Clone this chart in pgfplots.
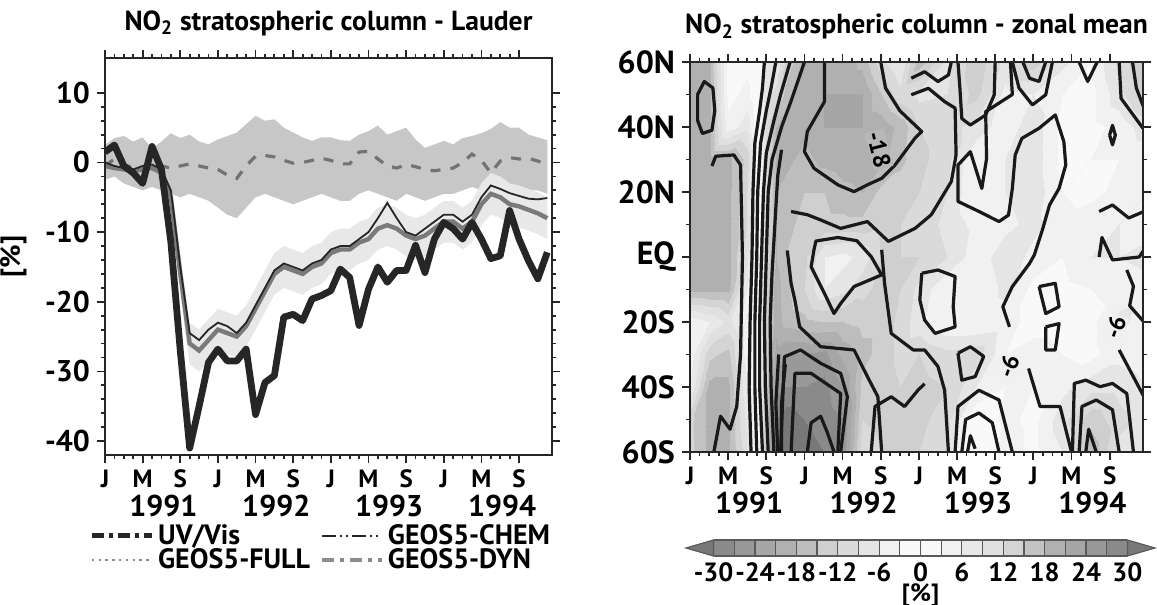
\documentclass[border=0pt]{standalone}
\usepackage{fontspec}
\setmainfont{PT Sans}
\usepackage{pgfplots}
\pgfplotsset{compat=1.18}

% grey levels of the filled contours, one per 3 % step from -33 to 33
\pgfplotsset{
  colormap={nogray}{
    gray(0cm)=(0.47); gray(1cm)=(0.54); gray(2cm)=(0.60); gray(3cm)=(0.65);
    gray(4cm)=(0.69); gray(5cm)=(0.74); gray(6cm)=(0.81); gray(7cm)=(0.855);
    gray(8cm)=(0.90); gray(9cm)=(0.945); gray(10cm)=(0.975); gray(11cm)=(0.975);
    gray(12cm)=(0.945); gray(13cm)=(0.91); gray(14cm)=(0.878); gray(15cm)=(0.83);
    gray(16cm)=(0.76); gray(17cm)=(0.69); gray(18cm)=(0.65); gray(19cm)=(0.60);
    gray(20cm)=(0.54); gray(21cm)=(0.47); gray(22cm)=(0.47)},
  panel/.style={
    anchor=south west, scale only axis,
    xmin=0, xmax=47.5,
    axis on top, tick align=outside,
    axis line style={line width=1.2pt, black!85},
    every tick/.style={black!85, line width=0.9pt},
    major tick length=4pt, minor tick length=2pt,
    xtick={0,4,...,44},
    xticklabels={J,M,S,J,M,S,J,M,S,J,M,S},
    minor x tick num=3,
    x tick label style={font=\fontsize{12.5}{14}\selectfont\bfseries},
    y tick label style={font=\fontsize{15}{16}\selectfont\bfseries},
    /pgf/number format/assume math mode=true,
    extra x ticks={6.2,18.2,30.2,42.2},
    extra x tick labels={\fontsize{15}{17}\selectfont 1991,\fontsize{15}{17}\selectfont 1992,
      \fontsize{15}{17}\selectfont 1993,\fontsize{15}{17}\selectfont 1994},
    extra x tick style={major tick length=0pt, tick label style={yshift=-16.5pt}},
    title style={font=\fontsize{13.8}{15}\selectfont\bfseries,
      at={(0.5,1)}, anchor=base, yshift=8pt},
  },
  cline/.style={black!90, line width=1.6pt, line join=round},
}
\tikzset{clabel/.style={font=\fontsize{12}{12}\selectfont\bfseries, fill=black!6, inner sep=0.6pt}}

\begin{document}
\begin{tikzpicture}[font=\bfseries]
\path[use as bounding box] (-52.5pt,-75pt) rectangle (526pt,227.5pt);

% ---------------- left: Lauder time series ----------------
\begin{axis}[panel,
  at={(0pt,0pt)}, width=223.5pt, height=198.5pt,
  ymin=-42, ymax=15,
  ytick={-40,-30,...,10}, minor y tick num=4,
  title={NO\textsubscript{2} stratospheric column - Lauder},
  ylabel={[\%]},
  ylabel style={font=\fontsize{14}{16}\selectfont\bfseries,
    at={(axis description cs:-0.205,0.5)}, anchor=center},
  legend columns=2,
  legend cell align=left,
  legend style={draw=none, fill=none, at={(0,0)}, anchor=north west,
    xshift=-11pt, yshift=-30.5pt, row sep=-3.4pt,
    font=\fontsize{14}{14}\selectfont\bfseries,
    /tikz/every even column/.append style={column sep=3pt}},
  legend image code/.code={\draw[#1] (0pt,0pt) -- (23.5pt,0pt); \path (0pt,0pt) -- (30pt,0pt);},
]
% GEOS5-DYN spread
\addplot[fill=black!22, draw=none, forget plot] coordinates {
(0,2.5)(1,3.5)(2,3.8)(3,3.0)(4,3.6)(5,2.0)(6,3.0)(7,4.2)(8,3.5)(9,4.0)
(10,3.0)(11,2.6)(12,3.3)(13,3.8)(14,4.3)(15,5.5)(16,6.7)(17,6.0)(18,6.2)(19,5.0)
(20,4.3)(21,3.6)(22,3.1)(23,3.6)(24,3.6)(25,3.2)(26,3.1)(27,4.0)(28,4.5)(29,5.3)
(30,4.0)(31,4.5)(32,5.0)(33,3.3)(34,2.1)(35,2.6)(36,3.1)(37,2.6)(38,3.5)(39,3.8)
(40,4.2)(41,4.8)(42,5.8)(43,5.0)(44,5.0)(45,4.0)(46,3.6)(47,3.2)
(47,-4.5)(46,-4.0)(45,-4.0)(44,-3.5)(43,-3.5)(42,-4.0)(41,-5.0)(40,-4.0)
(39,-3.5)(38,-4.0)(37,-4.5)(36,-4.5)(35,-5.0)(34,-5.5)(33,-5.0)(32,-4.5)(31,-5.5)(30,-5.0)
(29,-4.5)(28,-4.0)(27,-4.5)(26,-5.5)(25,-5.5)(24,-5.0)(23,-4.5)(22,-5.0)(21,-5.5)(20,-6.0)
(19,-5.5)(18,-5.0)(17,-4.5)(16,-5.0)(15,-6.5)(14,-8.0)(13,-7.5)(12,-6.5)(11,-5.5)(10,-5.0)
(9,-4.5)(8,-5.0)(7,-4.5)(6,-4.0)(5,-3.5)(4,-4.0)(3,-3.5)(2,-3.0)(1,-2.0)(0,-2.5)
} -- cycle;
% model spread
\addplot[fill=black!9, draw=none, forget plot] coordinates {
(8,-13)(9,-23)(10,-24)(11,-22.5)(12,-21)(13,-21.5)(14,-22)(15,-20.5)(16,-18)(17,-15.5)
(18,-13)(19,-12)(20,-12.5)(21,-13)(22,-12)(23,-11.5)(24,-10)(25,-9.5)(26,-9.5)(27,-8.5)
(28,-8)(29,-6.5)(30,-6)(31,-6.5)(32,-7.5)(33,-8)(34,-7.5)(35,-6.5)(36,-5.5)(37,-5.5)
(38,-6.5)(39,-5.5)(40,-3)(41,-1.5)(42,-2)(43,-3)(44,-3.3)(45,-3.8)(46,-4.3)(47,-5)
(47,-11)(46,-10.3)(45,-9.8)(44,-9.3)(43,-9)(42,-8)(41,-7.5)(40,-9)(39,-11.5)(38,-12.5)
(37,-11.5)(36,-11.5)(35,-12.5)(34,-13.5)(33,-14)(32,-13.5)(31,-12.5)(30,-12)(29,-12.5)(28,-14)
(27,-14.5)(26,-15.5)(25,-15.5)(24,-16)(23,-17.5)(22,-18)(21,-19)(20,-18.5)(19,-18)(18,-19)
(17,-21.5)(16,-24)(15,-26.5)(14,-28)(13,-27.5)(12,-27)(11,-28.5)(10,-30)(9,-29)(8,-19)
} -- cycle;
% GEOS5-DYN
\addplot[black!55, line width=1.6pt, dash pattern=on 5pt off 5pt, forget plot] coordinates {
(0,-0.5)(1,0.5)(2,-0.3)(3,-0.8)(4,-1.0)(5,-0.3)(6,-0.5)(7,-0.8)(8,-0.5)(9,-0.2)
(10,-0.5)(11,-0.8)(12,-1.0)(13,-1.8)(14,-2.3)(15,-0.5)(16,0.9)(17,1.0)(18,0.8)(19,0.3)
(20,-0.1)(21,0.0)(22,0.3)(23,0.6)(24,0.3)(25,-0.2)(26,-0.2)(27,1.5)(28,1.6)(29,0.5)
(30,-0.5)(31,-0.8)(32,-0.3)(33,-0.6)(34,-1.0)(35,-1.2)(36,-1.0)(37,-0.8)(38,0.0)(39,1.2)
(40,0.3)(41,-1.5)(42,0.2)(43,0.7)(44,0.5)(45,0.6)(46,0.2)(47,-0.3)};
% GEOS5-FULL
\addplot[black!52, line width=2.2pt, forget plot] coordinates {
(0,-0.5)(1,-0.8)(2,-1.0)(3,-1.2)(4,-1.0)(5,-0.8)(6,-1.5)(7,-5)(8,-16)(9,-26)
(10,-27)(11,-25.5)(12,-24)(13,-24.5)(14,-25)(15,-23.5)(16,-21)(17,-18.5)(18,-16)(19,-15)
(20,-15.5)(21,-16)(22,-15)(23,-14.5)(24,-13)(25,-12.5)(26,-12.5)(27,-11.5)(28,-11)(29,-9.5)
(30,-9)(31,-9.5)(32,-10.5)(33,-11)(34,-10.5)(35,-9.5)(36,-8.5)(37,-8.5)(38,-9.5)(39,-8.5)
(40,-6)(41,-4.5)(42,-5)(43,-6)(44,-6.3)(45,-6.8)(46,-7.3)(47,-8)};
% GEOS5-CHEM
\addplot[black!85, line width=0.9pt, forget plot] coordinates {
(0,0)(1,-0.5)(2,-0.8)(3,-1)(4,-0.5)(5,-0.3)(6,-1)(7,-4)(8,-15)(9,-24.5)
(10,-25.5)(11,-24)(12,-23)(13,-23.5)(14,-24.5)(15,-23)(16,-20.5)(17,-18)(18,-15.5)(19,-14.5)
(20,-15)(21,-15.5)(22,-14.5)(23,-14)(24,-12.5)(25,-12)(26,-12)(27,-11)(28,-10)(29,-8)
(30,-5.8)(31,-8)(32,-10)(33,-10.5)(34,-9.5)(35,-8.5)(36,-7.5)(37,-7.5)(38,-8.5)(39,-7.5)
(40,-5)(41,-3.3)(42,-3.8)(43,-4.4)(44,-4.8)(45,-5.2)(46,-5.3)(47,-5.1)};
% UV/Vis
\addplot[black!85, line width=3.4pt, line join=round, forget plot] coordinates {
(0,1.5)(1,2.5)(2,-0.5)(3,-1.5)(4,-3)(5,2.3)(6,-1.0)(7,-11.4)(8,-27)(9,-41)
(10,-35)(11,-28.7)(12,-26.8)(13,-28.5)(14,-28.5)(15,-26.8)(16,-36.2)(17,-31.6)(18,-30.6)(19,-22.2)
(20,-21.8)(21,-22.7)(22,-19.6)(23,-19.1)(24,-18.4)(25,-15.3)(26,-16.5)(27,-23.4)(28,-18.2)(29,-15)
(30,-17.2)(31,-15.5)(32,-15.5)(33,-11.9)(34,-15.8)(35,-11)(36,-8.6)(37,-9.5)(38,-11)(39,-8.6)
(40,-11)(41,-13.8)(42,-13.4)(43,-6.9)(44,-11)(45,-14.1)(46,-16.7)(47,-12.9)};
\addlegendimage{black!85, line width=2.4pt, dash pattern=on 6pt off 2.5pt on 2pt off 2.5pt}
\addlegendentry{UV/Vis}
\addlegendimage{black!85, line width=1.3pt, dash pattern=on 7pt off 2pt on 1pt off 2pt on 1pt off 2pt}
\addlegendentry{GEOS5-CHEM}
\addlegendimage{black!45, line width=1.3pt, dash pattern=on 1.2pt off 2.2pt}
\addlegendentry{GEOS5-FULL}
\addlegendimage{black!45, line width=2pt, dash pattern=on 6pt off 3pt on 2pt off 3pt}
\addlegendentry{GEOS5-DYN}
\end{axis}

% ---------------- right: zonal mean latitude-time section ----------------
\begin{axis}[panel,
  at={(292.5pt,1.5pt)}, width=226.5pt, height=195pt,
  ymin=-60, ymax=60,
  ytick={-60,-40,...,60}, minor y tick num=1,
  yticklabels={60S,40S,20S,EQ,20N,40N,60N},
  y tick label style={font=\fontsize{16}{18}\selectfont\bfseries},
  title={NO\textsubscript{2} stratospheric column - zonal mean},
  colormap name=nogray, colormap access=piecewise constant,
  point meta min=-33, point meta max=33,
]
\addplot[surf, shader=interp, mesh/rows=13, mesh/cols=23, point meta=explicit] coordinates {
(0,60)[19] (2,60)[19] (4,60)[2] (6,60)[2] (7,60)[0] (8,60)[-6] (9,60)[-6] (10,60)[-12] (12,60)[-19] (14,60)[-20] (16,60)[-20] (18,60)[-17] (20,60)[-10] (22,60)[-6] (24,60)[-17] (27,60)[-8] (30,60)[-14] (33,60)[-8] (36,60)[-14] (39,60)[-7] (42,60)[-3] (45,60)[-10] (48,60)[-16]
(0,50)[19] (2,50)[19] (4,50)[2] (6,50)[4] (7,50)[0] (8,50)[-8] (9,50)[-10] (10,50)[-16] (12,50)[-20] (14,50)[-21] (16,50)[-21] (18,50)[-21] (20,50)[-15] (22,50)[-10] (24,50)[-8] (27,50)[-9] (30,50)[-13] (33,50)[-5] (36,50)[-6] (39,50)[-3] (42,50)[-2] (45,50)[-8] (48,50)[-14]
(0,40)[19] (2,40)[19] (4,40)[4] (6,40)[8] (7,40)[0] (8,40)[-10] (9,40)[-18] (10,40)[-20] (12,40)[-19] (14,40)[-21] (16,40)[-21] (18,40)[-21] (20,40)[-20] (22,40)[-17] (24,40)[-12] (27,40)[-10] (30,40)[-8] (33,40)[-4] (36,40)[-8] (39,40)[-2] (42,40)[-2] (45,40)[-4] (48,40)[-8]
(0,30)[19] (2,30)[19] (4,30)[19] (6,30)[14] (7,30)[1] (8,30)[-10] (9,30)[-18] (10,30)[-19] (12,30)[-17] (14,30)[-19] (16,30)[-20] (18,30)[-20] (20,30)[-19] (22,30)[-16] (24,30)[-13] (27,30)[-10] (30,30)[-3] (33,30)[-6] (36,30)[-8] (39,30)[-2] (42,30)[-3] (45,30)[-3] (48,30)[-4]
(0,20)[19] (2,20)[19] (4,20)[19] (6,20)[12] (7,20)[1] (8,20)[-10] (9,20)[-18] (10,20)[-17] (12,20)[-15] (14,20)[-15] (16,20)[-17] (18,20)[-18] (20,20)[-14] (22,20)[-13] (24,20)[-12] (27,20)[-9] (30,20)[-3] (33,20)[-6] (36,20)[-8] (39,20)[-3] (42,20)[-2] (45,20)[-4] (48,20)[-6]
(0,10)[19] (2,10)[19] (4,10)[19] (6,10)[12] (7,10)[1] (8,10)[-10] (9,10)[-18] (10,10)[-16] (12,10)[-14] (14,10)[-14] (16,10)[-14] (18,10)[-14] (20,10)[-13] (22,10)[-12] (24,10)[-11] (27,10)[-8] (30,10)[-5] (33,10)[-5] (36,10)[-7] (39,10)[-4] (42,10)[-5] (45,10)[-6] (48,10)[-5]
(0,0)[19] (2,0)[19] (4,0)[19] (6,0)[10] (7,0)[0] (8,0)[-10] (9,0)[-18] (10,0)[-15] (12,0)[-13] (14,0)[-6] (16,0)[-5] (18,0)[-7] (20,0)[-12] (22,0)[-12] (24,0)[-12] (27,0)[-9] (30,0)[-4] (33,0)[-8] (36,0)[-5] (39,0)[-3] (42,0)[-6] (45,0)[-6] (48,0)[-7]
(0,-10)[19] (2,-10)[19] (4,-10)[19] (6,-10)[6] (7,-10)[0] (8,-10)[-12] (9,-10)[-20] (10,-10)[-16] (12,-10)[-12] (14,-10)[-6] (16,-10)[-8] (18,-10)[-11] (20,-10)[-13] (22,-10)[-12] (24,-10)[-8] (27,-10)[-3] (30,-10)[-3] (33,-10)[-7] (36,-10)[-2] (39,-10)[-2] (42,-10)[-3] (45,-10)[-4] (48,-10)[-5]
(0,-20)[4] (2,-20)[6] (4,-20)[10] (6,-20)[4] (7,-20)[0] (8,-20)[-12] (9,-20)[-20] (10,-20)[-17] (12,-20)[-16] (14,-20)[-15] (16,-20)[-15] (18,-20)[-14] (20,-20)[-14] (22,-20)[-11] (24,-20)[-7] (27,-20)[-3] (30,-20)[-3] (33,-20)[-4] (36,-20)[-2] (39,-20)[-2] (42,-20)[-2] (45,-20)[-7] (48,-20)[-4]
(0,-30)[4] (2,-30)[14] (4,-30)[16] (6,-30)[4] (7,-30)[0] (8,-30)[-14] (9,-30)[-22] (10,-30)[-24] (12,-30)[-24] (14,-30)[-25] (16,-30)[-20] (18,-30)[-16] (20,-30)[-14] (22,-30)[-11] (24,-30)[-12] (27,-30)[-10] (30,-30)[-11] (33,-30)[-3] (36,-30)[-4] (39,-30)[-3] (42,-30)[-2] (45,-30)[-5] (48,-30)[-4]
(0,-40)[6] (2,-40)[19] (4,-40)[19] (6,-40)[6] (7,-40)[0] (8,-40)[-14] (9,-40)[-26] (10,-40)[-27] (12,-40)[-27] (14,-40)[-28] (16,-40)[-24] (18,-40)[-14] (20,-40)[-14] (22,-40)[-12] (24,-40)[-13] (27,-40)[-12] (30,-40)[-6] (33,-40)[-3] (36,-40)[-3] (39,-40)[-5] (42,-40)[-8] (45,-40)[-8] (48,-40)[-6]
(0,-50)[14] (2,-50)[19] (4,-50)[19] (6,-50)[8] (7,-50)[0] (8,-50)[-16] (9,-50)[-30] (10,-50)[-32] (12,-50)[-30] (14,-50)[-29] (16,-50)[-27] (18,-50)[-12] (20,-50)[-13] (22,-50)[-14] (24,-50)[-13] (27,-50)[-10] (30,-50)[0] (33,-50)[-4] (36,-50)[-2] (39,-50)[-8] (42,-50)[-14] (45,-50)[-10] (48,-50)[-8]
(0,-60)[14] (2,-60)[19] (4,-60)[19] (6,-60)[10] (7,-60)[0] (8,-60)[-16] (9,-60)[-31] (10,-60)[-33] (12,-60)[-31] (14,-60)[-30] (16,-60)[-26] (18,-60)[-10] (20,-60)[-12] (22,-60)[-13] (24,-60)[-12] (27,-60)[-9] (30,-60)[3] (33,-60)[-5] (36,-60)[-2] (39,-60)[-6] (42,-60)[-17] (45,-60)[-8] (48,-60)[-6]
};
% contour lines
\addplot[cline] coordinates {(0.8,50)(1.5,54)(2.4,52)(2.6,45)(2.3,39)(1.3,38)(0.8,42)(0.8,50)};
\addplot[cline] coordinates {(2.3,28)(2.7,31)(4.6,31.4)(5.3,28.3)(5.5,0)(5.3,-30)(4.9,-46)(4.2,-53)(3.2,-49)(2.5,-60)};
\addplot[cline] coordinates {(6.4,-60)(6.2,-40)(6.3,-20)(6.5,0)(6.6,20)(6.8,35)(7.3,45)(7.6,52)(7.8,60)};
\addplot[cline] coordinates {(7.0,-60)(6.8,-40)(6.8,-20)(7.0,0)(7.1,20)(7.4,35)(8.0,45)(8.5,52)(9.0,60)};
\addplot[cline] coordinates {(7.6,-60)(7.3,-40)(7.3,-20)(7.5,0)(7.7,20)(8.0,32)(8.8,42)(9.5,50)(10.5,60)};
\addplot[cline] coordinates {(8.2,-60)(7.9,-40)(7.8,-20)(8.0,0)(8.2,20)(8.6,30)(9.6,40)(10.6,48)(12.0,60)};
\addplot[cline] coordinates {(8.8,-60)(8.5,-40)(8.4,-20)(8.6,-5)(8.9,10)(9.2,25)(9.6,33)};
\addplot[cline] coordinates {(9.2,-60)(9.0,-45)(9.3,-30)};
\addplot[cline] coordinates {(9.6,-60)(9.6,-45)(10,-33)};
% NH -18 region
\addplot[cline] coordinates {(14.1,60)(14.1,47.8)(12.3,38.6)(12.0,32.4)(13.0,27.3)(15.5,22.2)(17.2,20.1)(18.6,22.2)(20.1,24.2)(21.5,28.3)(23.6,36.6)(24.3,38.6)(22,45)(20.5,52)(20,60)};
\addplot[cline] coordinates {(10.6,14)(12.3,13)(13.7,11.4)(15.8,8.8)(18.6,10.9)(20.8,4.8)(23.6,8.8)(25.3,13)(27.4,23.2)(27.9,31.4)(27.8,45.8)(26.7,47.8)(25,51.9)(23.2,49.9)};
\addplot[cline] coordinates {(23.2,55)(24.6,57)(26,54)(27.1,56)(27.4,60)};
% tropical white blob
\addplot[cline] coordinates {(13,2.2)(12.7,-3)(14.1,-11.2)(15.1,-17.4)(15.8,-14.3)(17.2,-9.1)(20.1,-5.5)(19,0.1)(17.5,5)(15.5,6)(13.2,4.9)(13,2.2)};
% SH contours
\addplot[cline] coordinates {(10.2,2)(10.6,-8.1)(11.0,-13.3)(11.5,-21.5)(13.7,-27.6)(17.2,-28.6)(18.6,-36.8)(19.7,-43)(20.1,-60)};
\addplot[cline] coordinates {(9.5,-60)(9.9,-30.7)(11.6,-28.6)(13.7,-32.7)(15.8,-35.8)(16.5,-43)(15.8,-60)};
\addplot[cline] coordinates {(10.6,-60)(11,-35.8)(12.7,-35.8)(14.8,-40)(15.8,-42)(15.5,-60)};
\addplot[cline] coordinates {(12.3,-60)(12.7,-51)(13.7,-49)(14.4,-54)(15.1,-60)};
\addplot[cline] coordinates {(20.1,2.2)(20.4,-8.1)(21.1,-23.5)(23.4,-28.6)(24.6,-28.6)(26,-33.7)(26.7,-41)(27.1,-60)};
\addplot[cline] coordinates {(19.0,-60)(19.4,-46)(21.1,-43)(22.5,-46)(23.9,-41)(24.6,-39)};
% 1993-1994
\addplot[cline] coordinates {(28.1,60)(28.3,52)(28.5,42.6)(29.4,40.6)(31,43.7)(31.9,49.9)(32,60)};
\addplot[cline] coordinates {(33.6,60)(33.8,50)(31,44.7)(31.1,30.3)(30.6,21.1)(29.4,32.4)(28.1,28.3)(28.1,17.1)(30.3,14)(32.4,10.9)(33.4,12.9)(33.8,21.1)(34.1,31.4)(34.8,36.5)(36.6,39.6)(38.3,43.7)(39.2,35.5)(39.4,28.3)(38.7,21.1)(37.7,16)(37,8.8)(36.1,0.6)(35.6,-2)(33.8,-9.1)(32.8,-15.3)(33.5,-21.5)};
\addplot[cline] coordinates {(33.8,60)(34.5,52)(35.9,46.8)(37.3,49.9)(38,60)};
\addplot[cline] coordinates {(34.9,60)(35.6,55)(36.6,54)(37.3,60)};
\addplot[cline] coordinates {(40.8,60)(41.7,54)(42.7,60)};
\addplot[cline] coordinates {(45,60)(45.2,48.8)(47.5,39.6)};
\addplot[cline] coordinates {(46.4,60)(46.8,52)(47.6,45.8)};
\addplot[cline] coordinates {(44.0,37.5)(44.3,40.5)(44.6,37.5)(44.3,34.5)(44.0,37.5)};
\addplot[cline] coordinates {(42.9,14)(44.3,16)(46,12)(47.6,14)};
\addplot[cline] coordinates {(42.9,0)(43.2,6)(44.3,-0.9)(47.1,0)(47.6,2.2)};
\addplot[cline] coordinates {(45.8,-4)(46.5,-9)(46.1,-15)(47.6,-20)};
\addplot[cline] coordinates {(24.3,-5)(26.0,-4)(27.8,-6)(27.6,-15.3)(27.8,-21.5)(25.7,-23.5)(24.6,-19.4)(24.1,-13.2)(24.3,-5)};
\addplot[cline] coordinates {(28.1,-29.6)(29.4,-27.6)(30.8,-30.6)(29.9,-36.8)(28.5,-37.9)(28.1,-29.6)};
\addplot[cline] coordinates {(27.8,-60)(28.1,-46)(30.3,-41)(32.4,-44)(33.8,-60)};
\addplot[cline] coordinates {(28.5,-60)(28.9,-50)(30.3,-48)(31.7,-51)(32.4,-60)};
\addplot[cline] coordinates {(29.1,-60)(29.4,-55)(29.9,-59)};
\addplot[cline] coordinates {(35.5,-34.3)(36.7,-46)(38.8,-46)(40,-60)};
\addplot[cline] coordinates {(36.6,-9.1)(38.3,-8.1)(38.7,-15.3)(37.3,-17.4)(36.6,-9.1)};
\addplot[cline] coordinates {(37.3,-21.5)(38.7,-20.5)(38.3,-28.6)(37.3,-28.6)(37.3,-21.5)};
\addplot[cline] coordinates {(40.1,-60)(40.3,-38.9)(41.5,-37.9)(43.0,-39.9)(44.3,-38.9)(45.8,-42)(46.5,-60)};
\addplot[cline] coordinates {(40.8,-60)(41.1,-46)(42.6,-44)(44.3,-47)(45.0,-60)};
\addplot[cline] coordinates {(41.5,-60)(41.8,-53)(42.6,-60)};
\addplot[cline] coordinates {(45,-28.6)(47.6,-43)};
\node[clabel, fill=black!28, rotate=-75] at (axis cs:19.8,33) {-18};
\node[clabel, rotate=70] at (axis cs:33.4,-33.5) {-6};
\node[clabel, rotate=70] at (axis cs:44.6,-21.5) {-6};
\end{axis}

% ---------------- colour bar ----------------
\begin{axis}[
  at={(290.5pt,-50.5pt)}, anchor=south west, scale only axis,
  width=234.5pt, height=8pt,
  xmin=-34, xmax=34, ymin=0, ymax=1,
  axis y line=none, axis x line*=bottom,
  x axis line style={draw=none}, xtick style={draw=none},
  xtick={-30,-24,...,30},
  x tick label style={font=\fontsize{13.2}{14}\selectfont\bfseries, yshift=0pt},
  /pgf/number format/assume math mode=true,
  xlabel={[\%]},
  xlabel style={font=\fontsize{12.5}{14}\selectfont\bfseries,
    at={(axis description cs:0.5,0)}, anchor=base, yshift=-22.5pt},
  colormap name=nogray, colormap access=piecewise constant,
  point meta min=-33, point meta max=33,
  clip=false,
]
\addplot[surf, shader=flat corner, mesh/rows=2, mesh/cols=21, point meta=explicit] coordinates {
(-30,0)[-28.5] (-27,0)[-25.5] (-24,0)[-22.5] (-21,0)[-19.5] (-18,0)[-16.5] (-15,0)[-13.5] (-12,0)[-10.5]
(-9,0)[-7.5] (-6,0)[-4.5] (-3,0)[-1.5] (0,0)[1.5] (3,0)[4.5] (6,0)[7.5] (9,0)[10.5] (12,0)[13.5]
(15,0)[16.5] (18,0)[19.5] (21,0)[22.5] (24,0)[25.5] (27,0)[28.5] (30,0)[28.5]
(-30,1)[-28.5] (-27,1)[-25.5] (-24,1)[-22.5] (-21,1)[-19.5] (-18,1)[-16.5] (-15,1)[-13.5] (-12,1)[-10.5]
(-9,1)[-7.5] (-6,1)[-4.5] (-3,1)[-1.5] (0,1)[1.5] (3,1)[4.5] (6,1)[7.5] (9,1)[10.5] (12,1)[13.5]
(15,1)[16.5] (18,1)[19.5] (21,1)[22.5] (24,1)[25.5] (27,1)[28.5] (30,1)[28.5]
};
\addplot[ycomb, black!65, line width=0.6pt] coordinates {
(-27,1)(-24,1)(-21,1)(-18,1)(-15,1)(-12,1)(-9,1)(-6,1)(-3,1)(0,1)(3,1)(6,1)(9,1)(12,1)(15,1)(18,1)(21,1)(24,1)(27,1)};
\addplot[black!65, line width=0.6pt] coordinates {(-30,0)(30,0)};
\addplot[black!65, line width=0.6pt] coordinates {(-30,1)(30,1)};
\addplot[fill=black!53, draw=black!65, line width=0.6pt] coordinates {(-30,0)(-34,0.5)(-30,1)} -- cycle;
\addplot[fill=black!53, draw=black!65, line width=0.6pt] coordinates {(30,0)(34,0.5)(30,1)} -- cycle;
\end{axis}
\end{tikzpicture}
\end{document}
